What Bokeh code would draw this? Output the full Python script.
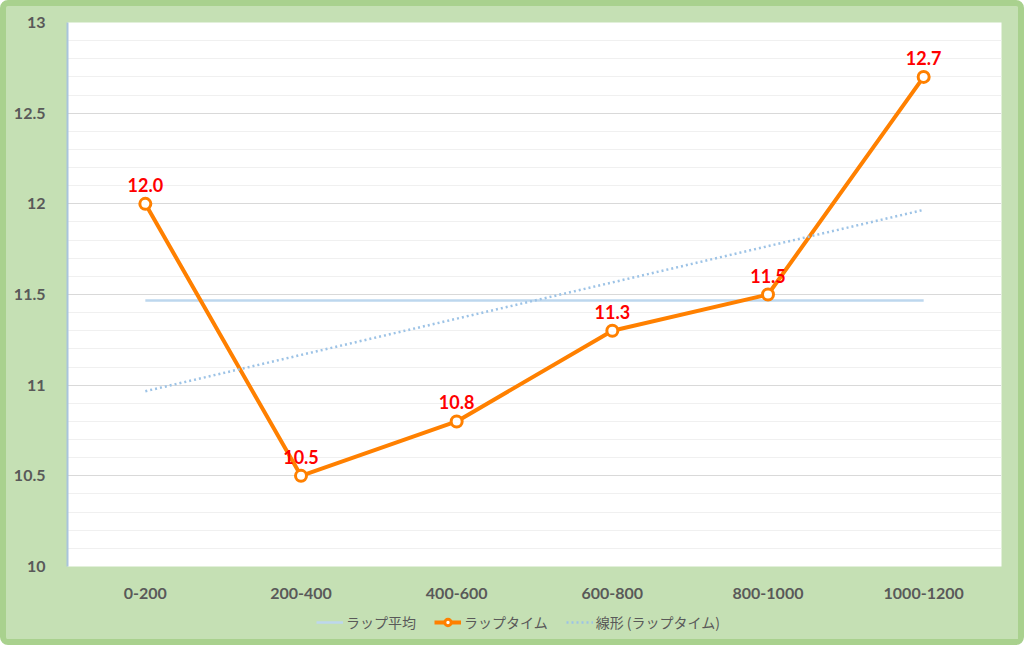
import numpy as np
from bokeh.plotting import figure
from bokeh.layouts import column
from bokeh.models import FactorRange, Range1d, Legend, LegendItem, SingleIntervalTicker
from bokeh.core.properties import value
from bokeh.embed import file_html
from bokeh.resources import INLINE

# ---- data ----
categories = ["0-200", "200-400", "400-600", "600-800", "800-1000", "1000-1200"]
lap_times = [12.0, 10.5, 10.8, 11.3, 11.5, 12.7]
lap_labels = [f"{v:.1f}" for v in lap_times]
name_avg = "ラップ平均"
name_lap = "ラップタイム"
name_trend = "線形 (ラップタイム)"

avg = float(np.mean(lap_times))
idx = np.arange(len(lap_times))
slope, intercept = np.polyfit(idx, lap_times, 1)
trend_y = [intercept + slope * idx[0], intercept + slope * idx[-1]]

TICK_FONT = "Lato"
CJK = "Noto Sans CJK JP"
BG = "#c5e0b4"
RIM = "#a9d18e"
ORANGE = "#ff8000"
AVG_C = "#bdd7ee"
TREND_C = "#9dc3e6"

p = figure(
    width=1012, height=600,
    x_range=FactorRange(factors=categories, range_padding=0),
    y_range=Range1d(10, 13),
    output_backend="svg", toolbar_location=None,
    min_border_left=61, min_border_right=17, min_border_top=16, min_border_bottom=40,
)
p.border_fill_color = BG
p.background_fill_color = "white"
p.outline_line_color = None

# grid
p.xgrid.grid_line_color = None
p.yaxis.ticker = SingleIntervalTicker(interval=0.5, num_minor_ticks=5)
p.ygrid.grid_line_color = "#d9d9d9"
p.ygrid.grid_line_width = 1
p.ygrid.minor_grid_line_color = "#f0f0f0"
p.ygrid.minor_grid_line_width = 1

# axes
p.yaxis.axis_line_color = "#a9c4dc"
p.yaxis.axis_line_width = 2
p.yaxis.major_tick_line_color = None
p.yaxis.minor_tick_line_color = None
p.yaxis.major_label_standoff = 16
p.xaxis.axis_line_color = None
p.xaxis.major_tick_line_color = None
p.xaxis.minor_tick_line_color = None
p.xaxis.major_label_standoff = 15
for ax in (p.xaxis, p.yaxis):
    ax.major_label_text_font = TICK_FONT
    ax.major_label_text_font_style = "bold"
    ax.major_label_text_font_size = "16px"
    ax.major_label_text_color = "#595959"

# series
p.line(x=[categories[0], categories[-1]], y=[avg, avg], line_color=AVG_C, line_width=2.5)
p.line(x=categories, y=lap_times, line_color=ORANGE, line_width=4)
p.scatter(x=categories, y=lap_times, marker="circle", size=11,
          fill_color="white", line_color=ORANGE, line_width=3)
p.line(x=[categories[0], categories[-1]], y=trend_y,
       line_color=TREND_C, line_width=2.5, line_dash="2 3")

p.text(x=categories, y=lap_times, text=lap_labels, text_align="center",
       text_baseline="alphabetic", y_offset=-19, text_color="#ff0000",
       text_font=value(TICK_FONT), text_font_style="bold", text_font_size="18px")

# legend strip (separate figure so the legend sits below the axis)
lg = figure(width=1012, height=33, x_range=Range1d(0, 1), y_range=Range1d(0, 1),
            output_backend="svg", toolbar_location=None,
            x_axis_type=None, y_axis_type=None,
            min_border_left=0, min_border_right=0, min_border_top=0, min_border_bottom=0)
lg.background_fill_color = BG
lg.border_fill_color = BG
lg.outline_line_color = None
lg.xgrid.visible = False
lg.ygrid.visible = False
# proxy renderers for the legend glyphs; their points lie outside the visible range
off_x = [5, 6]
off_y = [5, 6]
l_avg = lg.line(x=off_x, y=off_y, line_color=AVG_C, line_width=2.5)
l_lap = lg.line(x=off_x, y=off_y, line_color=ORANGE, line_width=4)
l_pts = lg.scatter(x=off_x, y=off_y, marker="circle", size=9, fill_color="white",
                   line_color=ORANGE, line_width=3)
l_trend = lg.line(x=off_x, y=off_y, line_color=TREND_C, line_width=2.5, line_dash="2 3")

legend = Legend(
    items=[LegendItem(label=name_avg, renderers=[l_avg]),
           LegendItem(label=name_lap, renderers=[l_lap, l_pts]),
           LegendItem(label=name_trend, renderers=[l_trend])],
    orientation="horizontal", location=(245, 3),
    label_text_font=CJK, label_text_font_size="14px", label_text_color="#595959",
    glyph_width=27, glyph_height=16, label_standoff=3, spacing=18,
    background_fill_alpha=0, border_line_alpha=0, padding=4, margin=0,
)
lg.add_layout(legend, "center")

layout = column(p, lg, spacing=0)
layout.styles = {"border": f"6px solid {RIM}", "border-radius": "8px",
                 "box-sizing": "content-box", "background-color": BG}

open("out.html", "w").write(file_html(layout, INLINE))
